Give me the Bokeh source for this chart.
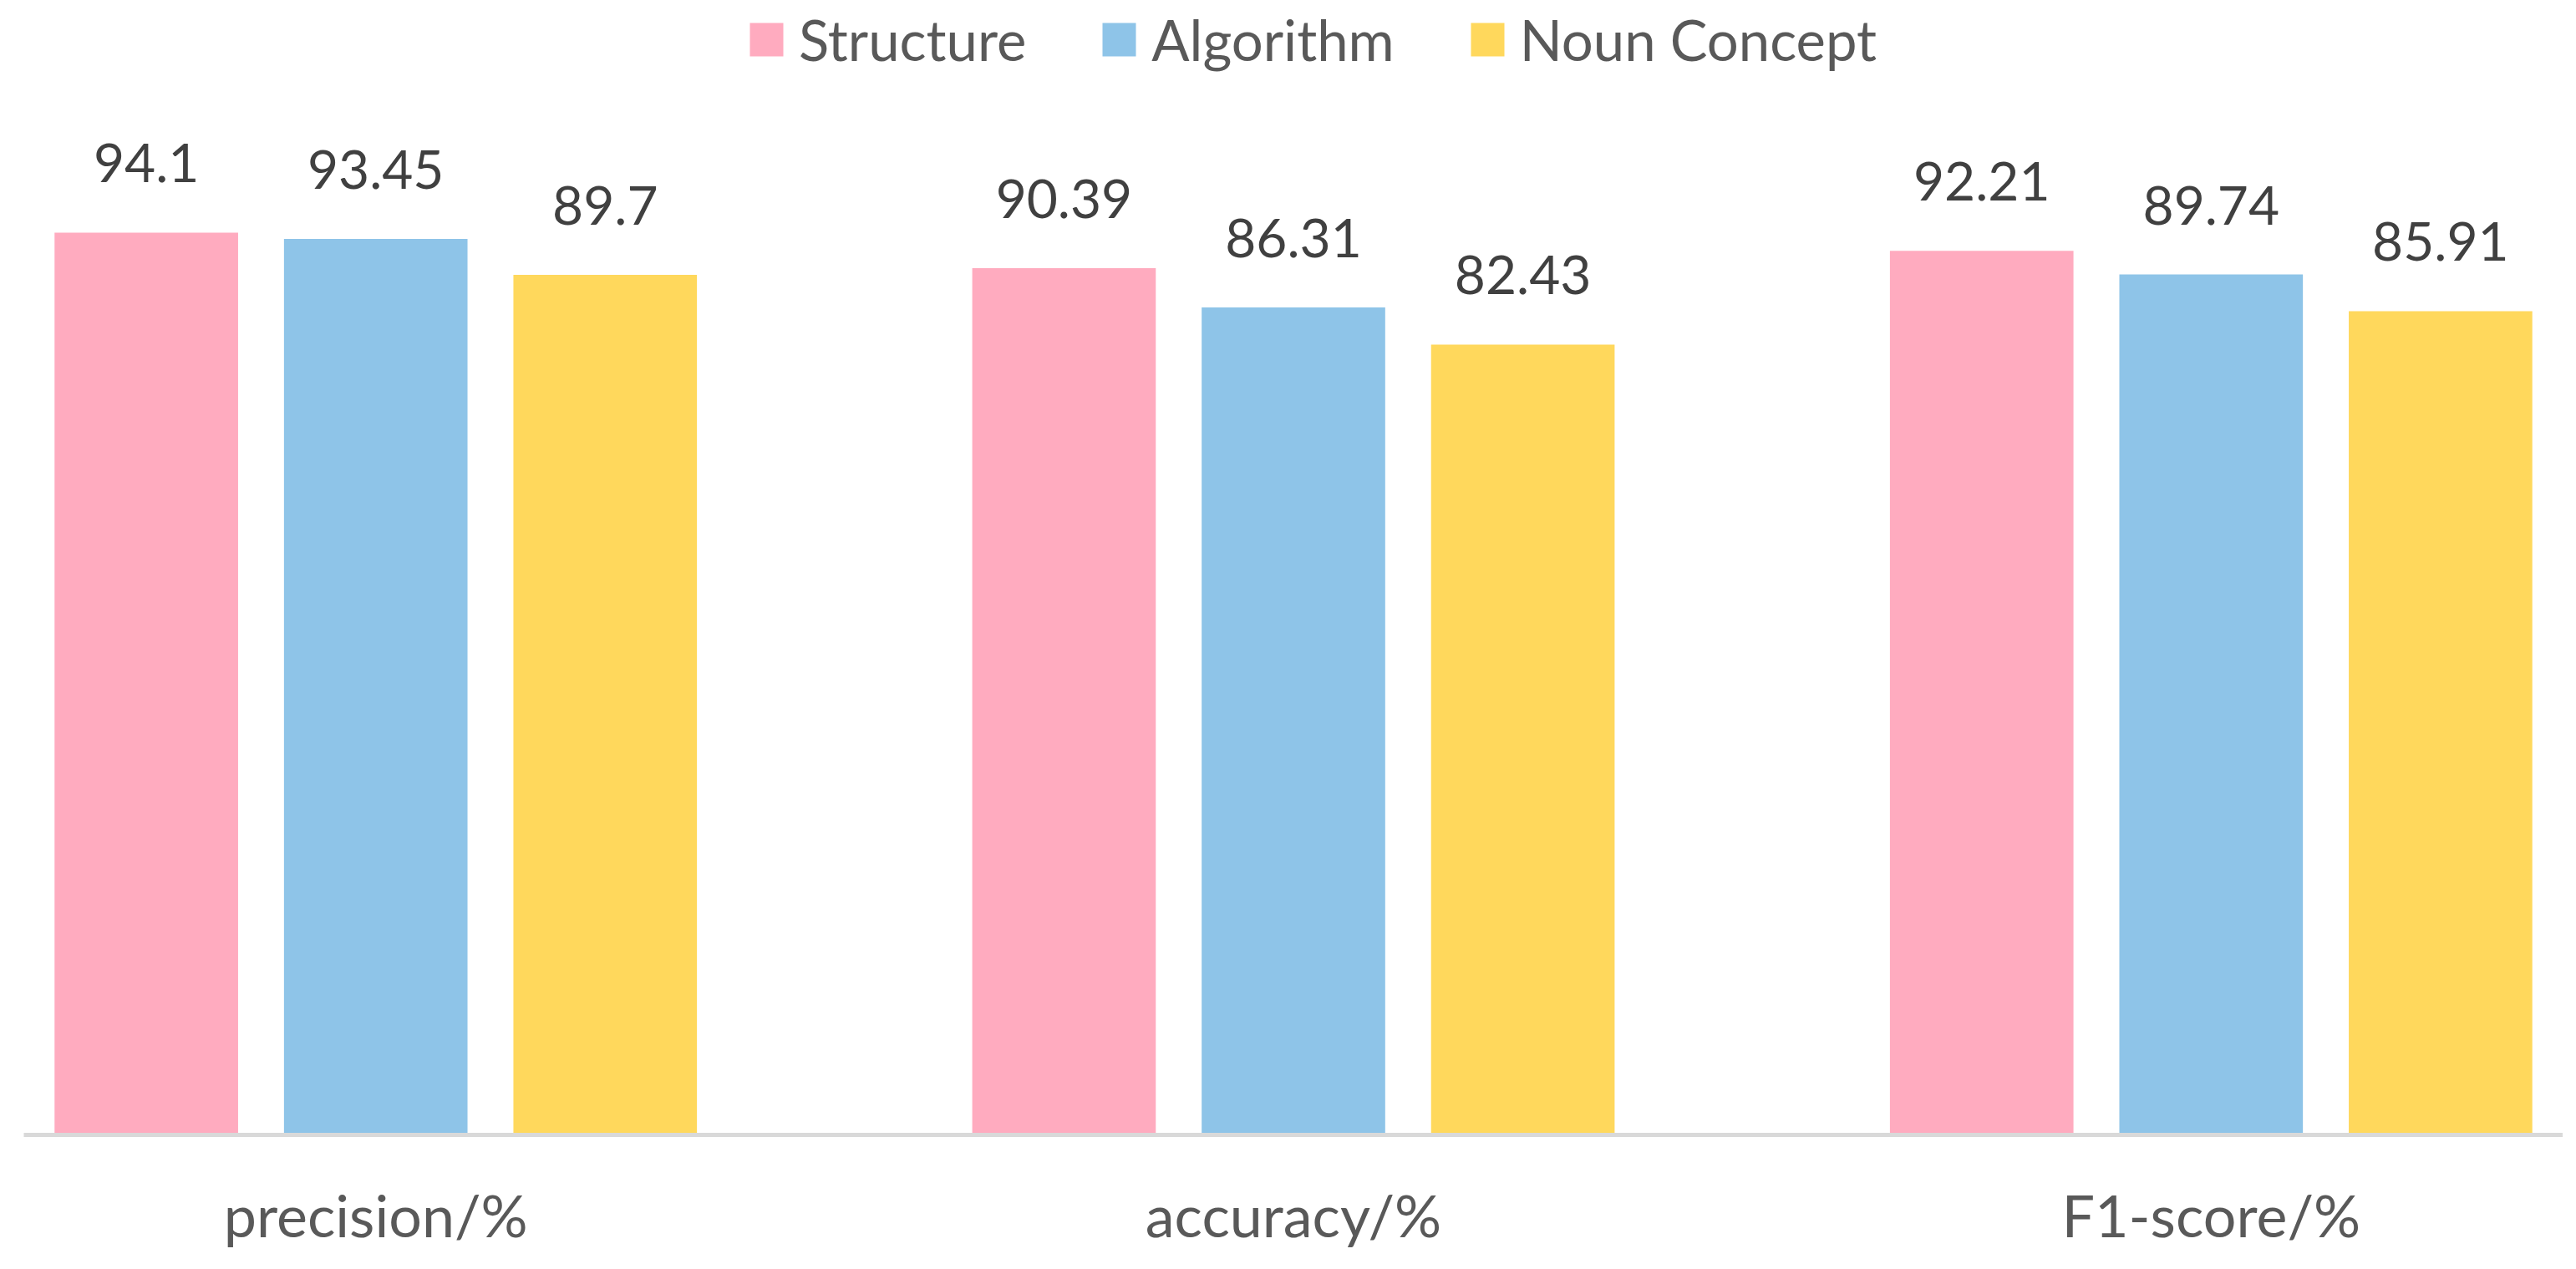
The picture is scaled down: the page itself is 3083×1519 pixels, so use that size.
from bokeh.plotting import figure
from bokeh.models import ColumnDataSource, FactorRange, Range1d, Legend, LegendItem
from bokeh.transform import dodge
from bokeh.core.properties import value
from bokeh.embed import file_html
from bokeh.resources import INLINE

categories = ["precision/%", "accuracy/%", "F1-score/%"]
series = ["Structure", "Algorithm", "Noun Concept"]
structure = [94.1, 90.39, 92.21]
algorithm = [93.45, 86.31, 89.74]
noun_concept = [89.7, 82.43, 85.91]
colors = ["#FFABBF", "#8EC4E8", "#FFD85C"]

FONT = "Lato"
W, H = 3067, 1503

source = ColumnDataSource(dict(
    cats=categories,
    structure=structure,
    algorithm=algorithm,
    noun=noun_concept,
    structure_lbl=[f"{v:g}" for v in structure],
    algorithm_lbl=[f"{v:g}" for v in algorithm],
    noun_lbl=[f"{v:g}" for v in noun_concept],
))

xr = FactorRange(*categories, range_padding=-0.1165, range_padding_units="absolute")
p = figure(x_range=xr, y_range=Range1d(0, 118.32), width=W, height=H,
           output_backend="svg", toolbar_location=None,
           min_border_left=28, min_border_right=0, min_border_top=0,
           min_border_bottom=145)
p.outline_line_color = None
p.grid.visible = False
p.yaxis.visible = False
p.background_fill_color = "white"
p.border_fill_color = "white"

offsets = [-0.25, 0.0, 0.25]
fields = ["structure", "algorithm", "noun"]
renderers = []
for off, f, c in zip(offsets, fields, colors):
    r = p.vbar(x=dodge("cats", off, range=p.x_range), top=f, width=0.2,
               source=source, fill_color=c, line_color=None)
    renderers.append(r)
    p.text(x=dodge("cats", off, range=p.x_range), y=f, text=f + "_lbl",
           source=source, text_align="center", text_baseline="alphabetic",
           y_offset=-83, text_font=value(FONT), text_font_size="64px",
           text_color="#404040")

ax = p.xaxis[0]
ax.axis_line_color = "#D9D9D9"
ax.axis_line_width = 5
ax.major_tick_line_color = None
ax.minor_tick_line_color = None
ax.major_label_text_font = FONT
ax.major_label_text_font_size = "70px"
ax.major_label_text_color = "#595959"
ax.major_label_standoff = 47

legend = Legend(items=[LegendItem(label=s, renderers=[r]) for s, r in zip(series, renderers)],
                orientation="horizontal", location=(864, 1271),
                glyph_width=50, glyph_height=50, label_standoff=14, spacing=86,
                padding=0, margin=0, border_line_color=None, background_fill_alpha=0,
                label_text_font=FONT, label_text_font_size="67px",
                label_text_color="#595959")
p.add_layout(legend, "center")

open("out.html", "w").write(file_html(p, INLINE))
